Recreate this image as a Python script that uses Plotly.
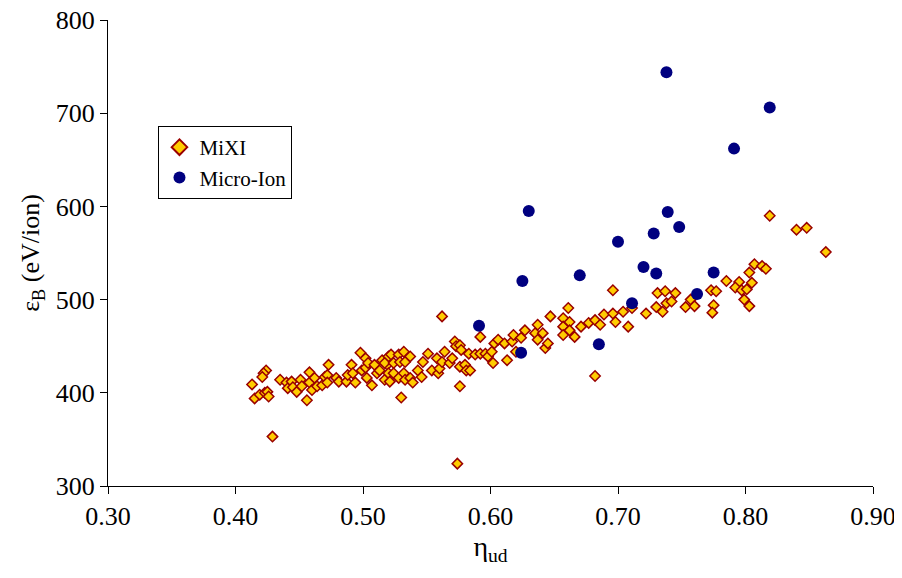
import plotly.graph_objects as go

mixi_x = [0.413, 0.424, 0.422, 0.421, 0.415, 0.419, 0.423, 0.425, 0.426, 0.429,
          0.435, 0.440, 0.441, 0.444, 0.445, 0.448, 0.451, 0.452, 0.456, 0.458,
          0.458, 0.460, 0.462, 0.464, 0.468, 0.470, 0.473, 0.472, 0.472, 0.479,
          0.481, 0.487, 0.488, 0.491, 0.492, 0.494, 0.498, 0.502, 0.499, 0.502,
          0.503, 0.504, 0.507, 0.509, 0.511, 0.513, 0.515, 0.517, 0.519, 0.520,
          0.520, 0.522, 0.517, 0.524, 0.528, 0.532, 0.529, 0.533, 0.537, 0.524,
          0.521, 0.528, 0.532, 0.533, 0.537, 0.539, 0.543, 0.546, 0.547, 0.551,
          0.554, 0.558, 0.559, 0.560, 0.562, 0.564, 0.568, 0.570, 0.572, 0.573,
          0.576, 0.576, 0.577, 0.580, 0.581, 0.584, 0.576, 0.583, 0.588, 0.592,
          0.592, 0.596, 0.598, 0.601, 0.602, 0.603, 0.606, 0.611, 0.613, 0.617,
          0.618, 0.620, 0.624, 0.627, 0.530, 0.562, 0.696, 0.731, 0.737, 0.745,
          0.730, 0.735, 0.738, 0.742, 0.661, 0.647, 0.637, 0.635, 0.641, 0.637,
          0.643, 0.645, 0.657, 0.657, 0.657, 0.662, 0.662, 0.666, 0.671, 0.677,
          0.682, 0.686, 0.689, 0.696, 0.698, 0.704, 0.708, 0.711, 0.722, 0.682,
          0.574, 0.819, 0.840, 0.848, 0.863, 0.807, 0.813, 0.816, 0.803, 0.785,
          0.795, 0.805, 0.792, 0.797, 0.801, 0.773, 0.777, 0.799, 0.803, 0.775,
          0.774, 0.753, 0.757, 0.760]
mixi_y = [409, 424, 421, 417, 394, 398, 400, 401, 396, 353,
          414, 411, 405, 412, 406, 401, 414, 407, 392, 422,
          411, 403, 416, 407, 408, 417, 430, 419, 411, 416,
          412, 412, 419, 430, 421, 411, 443, 437, 424, 427,
          416, 432, 408, 430, 421, 424, 435, 414, 430, 421,
          439, 441, 432, 432, 441, 444, 433, 433, 439, 421,
          412, 416, 421, 414, 416, 411, 424, 417, 433, 442,
          424, 437, 421, 426, 433, 444, 432, 437, 455, 450,
          428, 451, 446, 430, 424, 424, 407, 442, 441, 442,
          460, 442, 439, 444, 432, 453, 457, 453, 435, 455,
          462, 444, 459, 467, 395, 482, 510, 507, 509, 507,
          492, 487, 496, 498, 491, 482, 473, 464, 464, 457,
          448, 453, 480, 471, 462, 476, 467, 460, 471, 475,
          478, 473, 484, 485, 476, 487, 471, 491, 485, 418,
          324, 590, 575, 577, 551, 538, 536, 533, 529, 520,
          519, 518, 513, 510, 511, 510, 509, 500, 493, 494,
          486, 492, 500, 493]

micro_x = [0.738, 0.819, 0.791, 0.630, 0.739, 0.748, 0.728, 0.700, 0.720,
           0.730, 0.775, 0.762, 0.625, 0.670, 0.711, 0.591, 0.685, 0.624]
micro_y = [744, 706, 662, 595, 594, 578, 571, 562, 535,
           528, 529, 506, 520, 526, 496, 472, 452, 443]

x_ticks = [0.30, 0.40, 0.50, 0.60, 0.70, 0.80, 0.90]
y_ticks = [300, 400, 500, 600, 700, 800]

FONT = "Liberation Serif, Times New Roman, serif"

fig = go.Figure()
fig.add_trace(go.Scatter(
    x=mixi_x, y=mixi_y, mode="markers", name="MiXI",
    marker=dict(symbol="diamond", size=8, color="#FFCC00",
                line=dict(color="#990000", width=1.5))))
fig.add_trace(go.Scatter(
    x=micro_x, y=micro_y, mode="markers", name="Micro-Ion",
    marker=dict(symbol="circle", size=12, color="#000080",
                line=dict(color="#000080", width=0))))

axis_common = dict(showgrid=False, zeroline=False, showline=True,
                   linecolor="black", linewidth=1, ticks="outside",
                   ticklen=7, tickcolor="black", mirror=False,
                   automargin=False, ticklabeloverflow="allow",
                   tickfont=dict(family=FONT, size=26, color="black"))

# page body adds an 8px offset; figure sized so the plot area lands where the reference has it
fig.update_layout(
    width=894, height=570,
    margin=dict(l=100, r=29, t=12, b=92),
    paper_bgcolor="white", plot_bgcolor="white",
    font=dict(family=FONT, color="black"),
    xaxis=dict(range=[0.3, 0.9], tickvals=x_ticks,
               ticktext=[f"{v:.2f}" for v in x_ticks],
               title=dict(text="η<sub>ud</sub>", font=dict(family=FONT, size=28),
                          standoff=6),
               **axis_common),
    yaxis=dict(range=[300, 800], tickvals=y_ticks,
               title=dict(text="ε<sub>B</sub> (eV/ion)", font=dict(family=FONT, size=26),
                          standoff=8),
               **axis_common),
    legend=dict(x=0.066, y=0.7725, xanchor="left", yanchor="top",
                bgcolor="white", bordercolor="black", borderwidth=1,
                font=dict(family=FONT, size=21, color="black"),
                itemsizing="constant"),
    showlegend=True,
)

fig.write_html("out.html")
